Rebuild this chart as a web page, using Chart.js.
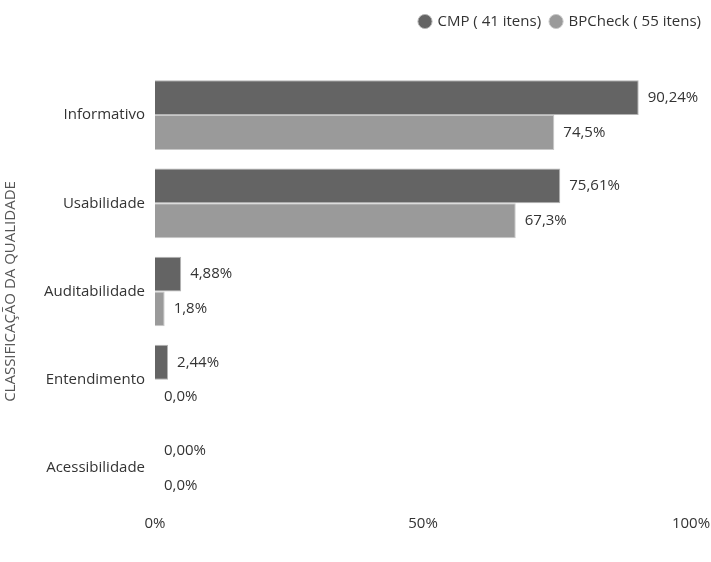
<!DOCTYPE html>
<html>
<head>
<meta charset="utf-8">
<script src="https://cdn.jsdelivr.net/npm/chart.js@4"></script>
<style>
  html, body { margin: 0; padding: 0; background: #fff; }
  #wrap { width: 711px; height: 562px; }
</style>
</head>
<body>
<div id="wrap"><canvas id="myChart"></canvas></div>
<script>
var categorias = ["Informativo", "Usabilidade", "Auditabilidade", "Entendimento", "Acessibilidade"]
var cmp = [90.24, 75.61, 4.88, 2.44, 0]
var bpcheck = [74.5, 67.3, 1.8, 0, 0]
var xTicks = [0, 50, 100]

var fonte = "'Open Sans'"

//Rotulos ao lado das barras
var rotulos = {
    id: "rotulos",
    afterDatasetsDraw: function(chart) {
        var ctx = chart.ctx
        ctx.save()
        ctx.font = "15px " + fonte
        ctx.fillStyle = "#333"
        ctx.textBaseline = "middle"
        ctx.textAlign = "left"
        chart.data.datasets.forEach(function(ds, i) {
            var meta = chart.getDatasetMeta(i)
            meta.data.forEach(function(bar, j) {
                var txt = ds.data[j].toFixed(ds.casas).replace(".", ",") + "%"
                ctx.fillText(txt, bar.x + 9, bar.y)
            })
        })
        ctx.restore()
    }
}

//Espaco extra abaixo da legenda
var espacoLegenda = {
    id: "espacoLegenda",
    beforeInit: function(chart) {
        var fit = chart.legend.fit
        chart.legend.fit = function() {
            fit.bind(chart.legend)()
            this.height += 32
        }
    }
}

var ctx = document.getElementById("myChart").getContext("2d")

var data = {
    labels: categorias,
    datasets: [
        {
            label: "CMP ( 41 itens)",
            data: cmp,
            casas: 2,
            backgroundColor: "#646464",
            borderColor: "#b4b4b4",
            borderWidth: 1
        },
        {
            label: "BPCheck ( 55 itens)",
            data: bpcheck,
            casas: 1,
            backgroundColor: "#9a9a9a",
            borderColor: "#c8c8c8",
            borderWidth: 1
        }
    ]
}

var config = {
    type: "bar",
    data: data,
    plugins: [rotulos, espacoLegenda],
    options: {
        indexAxis: "y",
        responsive: true,
        maintainAspectRatio: false,
        animation: false,
        categoryPercentage: 0.79,
        barPercentage: 1,
        layout: { padding: { left: 0, right: 0, top: 4, bottom: 26 } },
        plugins: {
            legend: {
                position: "top",
                align: "end",
                labels: {
                    usePointStyle: true,
                    pointStyle: "circle",
                    boxWidth: 10,
                    boxHeight: 10,
                    padding: 10,
                    color: "#333",
                    font: { family: fonte, size: 15 }
                }
            },
            tooltip: { enabled: false }
        },
        scales: {
            x: {
                min: 0,
                max: 100,
                afterBuildTicks: function(scale) {
                    scale.ticks = xTicks.map(function(v) { return { value: v } })
                },
                afterFit: function(scale) { scale.paddingRight = 20 },
                grid: { display: false, drawTicks: false },
                border: { display: false },
                ticks: {
                    color: "#333",
                    font: { family: fonte, size: 15 },
                    padding: 3,
                    maxRotation: 0,
                    callback: function(value) { return value + "%" }
                }
            },
            y: {
                grid: { display: false, drawTicks: false },
                border: { display: false },
                afterFit: function(scale) { scale.width = 155 },
                ticks: {
                    color: "#333",
                    font: { family: fonte, size: 15 },
                    padding: 10
                },
                title: {
                    display: true,
                    text: "CLASSIFICAÇÃO DA QUALIDADE",
                    color: "#555",
                    font: { family: fonte, size: 15 },
                    padding: { top: 2, bottom: 0 }
                }
            }
        }
    }
}

var myChart = new Chart(ctx, config)
</script>
</body>
</html>
